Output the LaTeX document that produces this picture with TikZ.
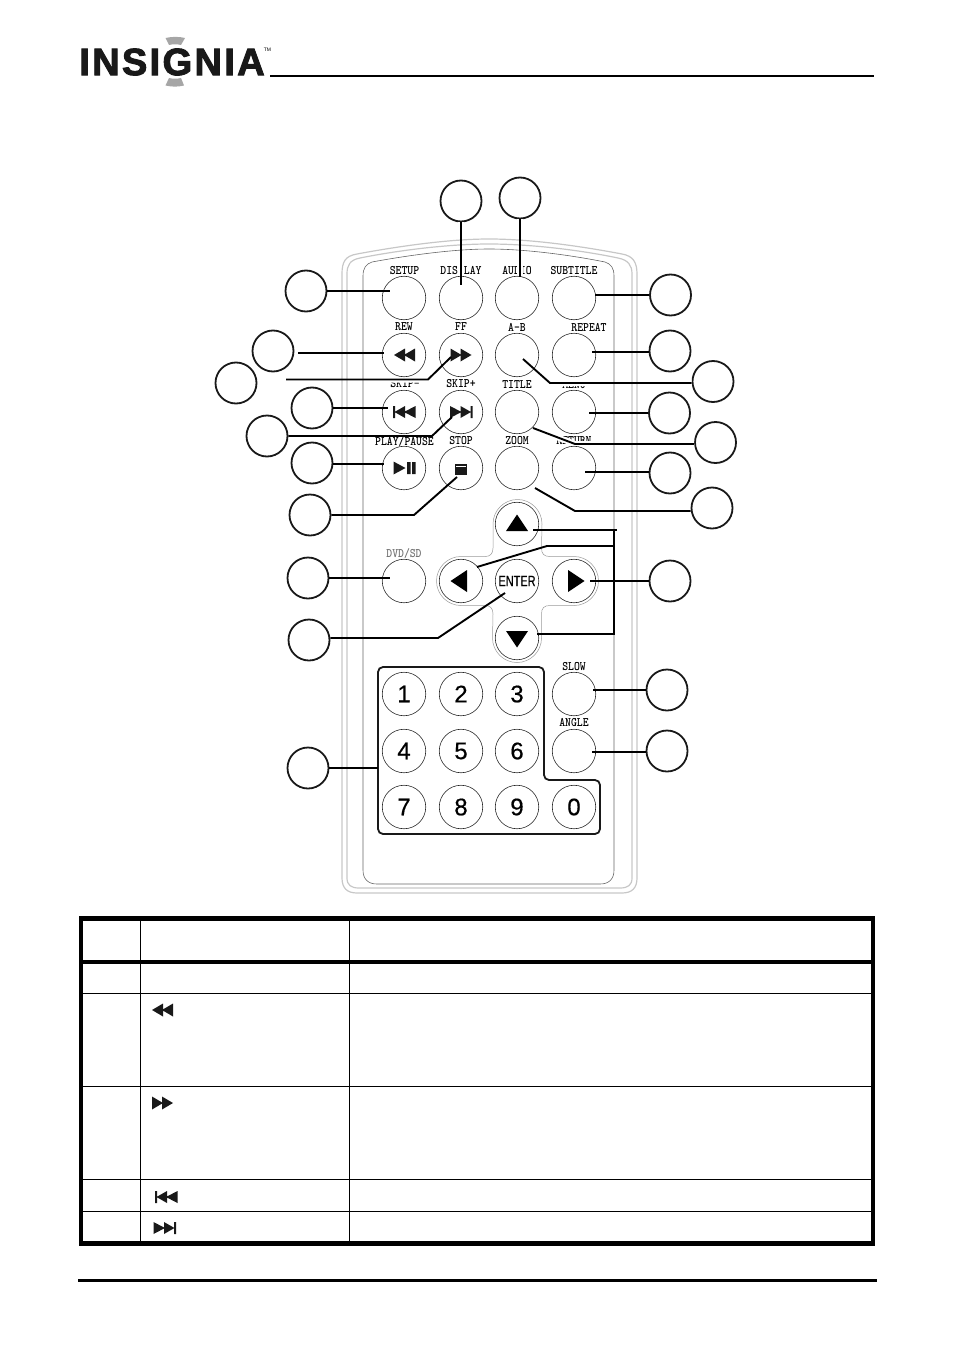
\documentclass[tikz,border=0pt]{standalone}
\usepackage{fontspec}
\setmainfont{Liberation Sans}
\newfontfamily\digitfont[FakeBold=.5]{Liberation Sans}
\newfontfamily\logofont[LetterSpace=6.2,FakeBold=2.5]{Liberation Sans}
\tikzset{
  page/.style={x=1pt,y=-1pt},
  btn/.style={circle,draw=black!85,line width=.6pt,minimum size=43.5pt,inner sep=0pt},
  num/.style={btn,font=\digitfont\fontsize{24}{24}\selectfont},
  callout/.style={circle,draw=black!90,line width=1.8pt,minimum size=41pt,inner sep=0pt},
  keylabel/.style={font=\ttfamily\bfseries\fontsize{13}{13}\selectfont,inner sep=0pt,xscale=.86,transform shape,text=black},
  lead/.style={draw=black,line width=1.9pt},
  halo/.style={draw=white,line width=6pt},
  shell/.style={draw=black!22,line width=1.2pt},
  shellin/.style={draw=black!60,line width=.6pt},
  padline/.style={draw=black!40,line width=.5pt},
  tablerule/.style={draw=black,line width=1pt},
  pics/rewglyph/.style={code={\fill[black!90] (-10.5,0)--(.5,-6.5)--(.5,6.5)--cycle (-.5,0)--(10.5,-6.5)--(10.5,6.5)--cycle;}},
  pics/ffglyph/.style={code={\fill[black!90] (10.5,0)--(-.5,-6.5)--(-.5,6.5)--cycle (.5,0)--(-10.5,-6.5)--(-10.5,6.5)--cycle;}},
  pics/prevglyph/.style={code={\fill[black!90] (-11.5,-6)rectangle(-9.5,6) (-10,0)--(0.5,-6)--(0.5,6)--cycle (-.5,0)--(11,-6)--(11,6)--cycle;}},
  pics/nextglyph/.style={code={\fill[black!90] (11.5,-6)rectangle(9.5,6) (10,0)--(-.5,-6)--(-.5,6)--cycle (.5,0)--(-11,-6)--(-11,6)--cycle;}},
  pics/playglyph/.style={code={\fill[black!90] (-11,-6.5)--(1,0)--(-11,6.5)--cycle (2.5,-6)rectangle(6,6) (7.5,-6)rectangle(11,6);}},
  pics/stopglyph/.style={code={\fill[black!90] (-6,-5.5)rectangle(6,5.5); \fill[white] (-5,-3.5)rectangle(5,-2.5);}},
  pics/upglyph/.style={code={\fill[black] (-11,8)--(11,8)--(0,-8.5)--cycle;}},
  pics/downglyph/.style={code={\fill[black] (-11,-8)--(11,-8)--(0,8.5)--cycle;}},
  pics/leftglyph/.style={code={\fill[black] (8,-11)--(8,11)--(-8.5,0)--cycle;}},
  pics/rightglyph/.style={code={\fill[black] (-8,-11)--(-8,11)--(8.5,0)--cycle;}},
}
\begin{document}
\begin{tikzpicture}[page]
  \useasboundingbox (0,0) rectangle (954,1351);
  \draw
    (172,62) node[font=\logofont\bfseries\fontsize{38}{38}\selectfont,inner sep=0pt,text=black!90] (logo){INSIGNIA}
    (267.5,50) node[font=\fontsize{5}{5}\selectfont,inner sep=0pt] (tm){TM};
  \fill[black!35] (165.5,38) .. controls (172,36.5) and (179,36.5) .. (185,38) -- (181,45) .. controls (177,44) and (173,44) .. (169,45) -- cycle;
  \fill[black!35] (169,78) .. controls (173,79) and (177,79) .. (181,78) -- (184,85.5) .. controls (178,87) and (172,87) .. (165.5,85.5) -- cycle;
  \draw
    (461,201) node[callout] (cdisplay){}
    (520,198) node[callout] (caudio){}
    (306,291) node[callout] (csetup){}
    (273,351) node[callout] (crew){}
    (236,383) node[callout] (cff){}
    (312,408) node[callout] (cprev){}
    (267,436) node[callout] (cnext){}
    (312,463) node[callout] (cplay){}
    (310,515) node[callout] (cstop){}
    (308,578) node[callout] (cdvd){}
    (309,640) node[callout] (center){}
    (308,768) node[callout] (cnum){}
    (670.5,295) node[callout] (csubtitle){}
    (670,351) node[callout] (crepeat){}
    (713,381.5) node[callout] (cab){}
    (669.5,413) node[callout] (cmenu){}
    (715.5,442.5) node[callout] (ctitle){}
    (670,473) node[callout] (creturn){}
    (712,508) node[callout] (czoom){}
    (670,581) node[callout] (cright){}
    (667,690) node[callout] (cslow){}
    (667,751) node[callout] (cangle){};
  \begin{scope}[every node/.style={keylabel}]
    \draw
      (404.5,271) node (lsetup){SETUP}
      (461,271) node (ldisplay){DISPLAY}
      (517,271) node (laudio){AUDIO}
      (574,271) node (lsubtitle){SUBTITLE}
      (404,327) node (lrew){REW}
      (461,327) node (lff){FF}
      (517,327) node (lab){A-B}
      (589,328) node (lrepeat){REPEAT}
      (405,384) node (lprev){SKIP\textbf{-}}
      (461,384) node (lnext){SKIP\textbf{+}}
      (517,384.5) node (ltitle){TITLE}
      (574,385) node (lmenu){MENU}
      (404.5,441.5) node (lplay){PLAY/PAUSE}
      (461,441) node (lstop){STOP}
      (517,441) node (lzoom){ZOOM}
      (574,441) node (lreturn){RETURN}
      (404,554) node[text=black!55] (ldvd){DVD/SD}
      (574,667) node (lslow){SLOW}
      (574,723) node (langle){ANGLE};
  \end{scope}
  \coordinate (eff0) at (286,379.5);
  \coordinate (eff1) at (428,379.5);
  \coordinate (eff2) at (451,357);
  \coordinate (eab1) at (550,383);
  \coordinate (eab2) at (523,359);
  \coordinate (etitle1) at (575,444);
  \coordinate (etitle2) at (533,428);
  \coordinate (edisplay) at (461,285);
  \coordinate (eaudio) at (520,277);
  \begin{scope}[every path/.style={halo}]
    \draw (cdisplay.south -| edisplay) to (edisplay);
    \draw (caudio.south -| eaudio) to (eaudio);
    \draw (eff0) -- (eff1) -- (eff2);
    \draw (cab.west |- eab1) -- (eab1) -- (eab2);
    \draw (ctitle.west |- etitle1) -- (etitle1) -- (etitle2);
  \end{scope}
  \begin{scope}[every path/.style={shell}]
    \draw (342,878) -- (342,274) .. controls (342,262) and (345,256) .. (357,254) .. controls (400,246) and (450,239) .. (489,239) .. controls (530,239) and (580,246) .. (622,254) .. controls (633,256) and (637,262) .. (637,274) -- (637,878) .. controls (637,888) and (632,893) .. (622,893) -- (357,893) .. controls (347,893) and (342,888) .. (342,878) -- cycle;
    \draw (347,878) -- (347,274) .. controls (347,265) and (350,260) .. (360,258) .. controls (400,250) and (450,244) .. (489,244) .. controls (530,244) and (580,250) .. (618,258) .. controls (628,260) and (632,265) .. (632,274) -- (632,878) .. controls (632,885) and (628,888) .. (620,888) -- (359,888) .. controls (351,888) and (347,885) .. (347,878) -- cycle;
  \end{scope}
  \draw[shellin] (363,870) -- (363,276) .. controls (363,268) and (366,264) .. (372,262) .. controls (410,255) and (455,249) .. (489,249) .. controls (525,249) and (570,255) .. (605,262) .. controls (611,264) and (614,268) .. (614,276) -- (614,870) .. controls (614,879) and (609,884) .. (600,884) -- (377,884) .. controls (368,884) and (363,879) .. (363,870) -- cycle;
  \draw[padline] (493,524) arc[start angle=180,end angle=360,radius=24.5] -- (541.5,548) .. controls (541.5,554) and (544,556.5) .. (550,556.5) -- (574,556.5) arc[start angle=-90,end angle=90,radius=24.5] -- (550,605.5) .. controls (544,605.5) and (541.5,608) .. (541.5,614) -- (541.5,638) arc[start angle=0,end angle=180,radius=24.5] -- (493,614) .. controls (493,608) and (490,605.5) .. (485,605.5) -- (461,605.5) arc[start angle=90,end angle=270,radius=24.5] -- (485,556.5) .. controls (490,556.5) and (493,554) .. (493,548) -- cycle;
  \draw
    (404,298) node[btn] (bsetup){}
    (461,298) node[btn] (bdisplay){}
    (517,298) node[btn] (baudio){}
    (574,298) node[btn] (bsubtitle){}
    (404,355) node[btn] (brew){}
    (461,355) node[btn] (bff){}
    (517,355) node[btn] (bab){}
    (574,355) node[btn] (brepeat){}
    (404,412) node[btn] (bprev){}
    (461,412) node[btn] (bnext){}
    (517,412) node[btn] (btitle){}
    (574,412) node[btn] (bmenu){}
    (404,468) node[btn] (bplay){}
    (461,468) node[btn] (bstop){}
    (517,468) node[btn] (bzoom){}
    (574,468) node[btn] (breturn){}
    (517,524) node[btn] (bup){}
    (404,581) node[btn] (bdvd){}
    (461,581) node[btn] (bleft){}
    (517,581) node[btn] (benter){}
    (574,581) node[btn] (bright){}
    (517,638) node[btn] (bdown){}
    (574,694) node[btn] (bslow){}
    (574,751) node[btn] (bangle){}
    (404,694) node[num] (b1){1}
    (461,694) node[num] (b2){2}
    (517,694) node[num] (b3){3}
    (404,751) node[num] (b4){4}
    (461,751) node[num] (b5){5}
    (517,751) node[num] (b6){6}
    (404,807) node[num] (b7){7}
    (461,807) node[num] (b8){8}
    (517,807) node[num] (b9){9}
    (574,807) node[num] (b0){0};
  \node[inner sep=0pt,xscale=.73,transform shape,font=\digitfont\fontsize{15}{15}\selectfont] (tenter) at (517,581) {ENTER};
  \pic at (404.5,355) {rewglyph};
  \pic at (461,355) {ffglyph};
  \pic at (404.5,412) {prevglyph};
  \pic at (461,412) {nextglyph};
  \pic at (404.5,468) {playglyph};
  \pic at (461,469) {stopglyph};
  \pic at (517,523) {upglyph};
  \pic at (517,639) {downglyph};
  \pic at (459,581) {leftglyph};
  \pic at (576,581) {rightglyph};
  \draw[line width=1.8pt,black!90,rounded corners=5pt] (378,667) -- (544,667) -- (544,780) -- (600,780) -- (600,834) -- (378,834) -- cycle;
  \coordinate (esetup) at (390,291);
  \coordinate (erew0) at (298,353);
  \coordinate (erew) at (384,353);
  \coordinate (eprev) at (388,408);
  \coordinate (enext1) at (432,436);
  \coordinate (enext2) at (452,417);
  \coordinate (eplay) at (384,464);
  \coordinate (estop1) at (414,515);
  \coordinate (estop2) at (457,477);
  \coordinate (edvd) at (390,578);
  \coordinate (eenter1) at (438,638);
  \coordinate (eenter2) at (505,593);
  \coordinate (enum) at (378,768);
  \coordinate (esubtitle) at (595,295);
  \coordinate (erepeat) at (592,352);
  \coordinate (emenu) at (589,413);
  \coordinate (ereturn) at (585,472);
  \coordinate (ezoom1) at (575,511);
  \coordinate (ezoom2) at (535,488);
  \coordinate (eright) at (590,581);
  \coordinate (eup) at (533,530);
  \coordinate (ejoin0) at (617,530);
  \coordinate (ejoin1) at (614,530);
  \coordinate (ejoin2) at (614,634);
  \coordinate (ejoin3) at (614,546);
  \coordinate (edown) at (537,634);
  \coordinate (eleft1) at (547,546);
  \coordinate (eleft2) at (477,567);
  \coordinate (eslow) at (593,690);
  \coordinate (eangle) at (592,752);
  \begin{scope}[every path/.style={lead}]
    \draw (cdisplay.south -| edisplay) to (edisplay);
    \draw (caudio.south -| eaudio) to (eaudio);
    \draw (csetup.east |- esetup) to (esetup);
    \draw (erew0) to (erew);
    \draw (eff0) -- (eff1) -- (eff2);
    \draw (cprev.east |- eprev) to (eprev);
    \draw (cnext.east |- enext1) -- (enext1) -- (enext2);
    \draw (cplay.east |- eplay) to (eplay);
    \draw (cstop.east |- estop1) -- (estop1) -- (estop2);
    \draw (cdvd.east |- edvd) to (edvd);
    \draw (center.east |- eenter1) -- (eenter1) -- (eenter2);
    \draw (cnum.east |- enum) to (enum);
    \draw (csubtitle.west |- esubtitle) to (esubtitle);
    \draw (crepeat.west |- erepeat) to (erepeat);
    \draw (cab.west |- eab1) -- (eab1) -- (eab2);
    \draw (cmenu.west |- emenu) to (emenu);
    \draw (ctitle.west |- etitle1) -- (etitle1) -- (etitle2);
    \draw (creturn.west |- ereturn) to (ereturn);
    \draw (czoom.west |- ezoom1) -- (ezoom1) -- (ezoom2);
    \draw (cright.west |- eright) to (eright);
    \draw (eup) -- (ejoin0);
    \draw (ejoin1) -- (ejoin2) -- (edown);
    \draw (ejoin3) -- (eleft1) -- (eleft2);
    \draw (cslow.west |- eslow) to (eslow);
    \draw (cangle.west |- eangle) to (eangle);
  \end{scope}
  \draw[line width=2pt] (270,75.7) coordinate (toprule0) -- (874,75.7) coordinate (toprule1);
  \draw[line width=3pt] (78,1280) coordinate (botrule0) -- (877,1280) coordinate (botrule1);
  \draw[line width=4.5pt] (81,918.5) rectangle (873,1243.5);
  \draw[line width=3.5pt] (81,962) -- (873,962);
  \begin{scope}[every path/.style={tablerule}]
    \draw (81,993.3) -- (873,993.3);
    \draw (81,1086) -- (873,1086);
    \draw (81,1179) -- (873,1179);
    \draw (81,1211.3) -- (873,1211.3);
    \draw (140.7,918.5) -- (140.7,1243.5);
    \draw (349.3,918.5) -- (349.3,1243.5);
  \end{scope}
  \pic at (162.5,1010) {rewglyph};
  \pic at (162.5,1103) {ffglyph};
  \pic at (166.5,1197) {prevglyph};
  \pic at (164.5,1228) {nextglyph};
\end{tikzpicture}
\end{document}
